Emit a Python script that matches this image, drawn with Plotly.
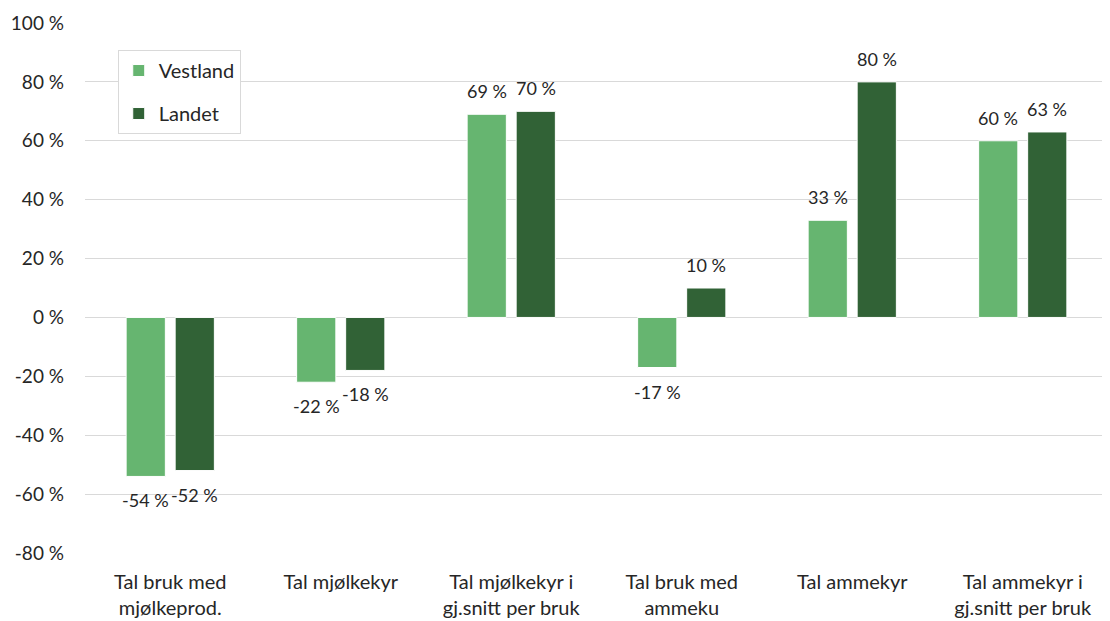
import plotly.graph_objects as go

categories = [
    "Tal bruk med<br>mjølkeprod.",
    "Tal mjølkekyr",
    "Tal mjølkekyr i<br>gj.snitt per bruk",
    "Tal bruk med<br>ammeku",
    "Tal ammekyr",
    "Tal ammekyr i<br>gj.snitt per bruk",
]
vestland = [-54, -22, 69, -17, 33, 60]
landet = [-52, -18, 70, 10, 80, 63]

tick_vals = [-80, -60, -40, -20, 0, 20, 40, 60, 80, 100]
tick_text = [f"{v} %" for v in tick_vals]

font_family = "Lato, 'Liberation Sans', sans-serif"
text_color = "#262626"

series = [
    ("Vestland", vestland, "#66b570", "a", -24.5),
    ("Landet", landet, "#316236", "b", 24.5),
]

fig = go.Figure()
for name, vals, color, grp, dx in series:
    fig.add_trace(go.Bar(
        name=name,
        x=categories,
        y=vals,
        marker=dict(color=color, line=dict(color="white", width=1)),
        legendgroup=grp,
    ))
    # value labels, outside end of each bar
    for cat, v in zip(categories, vals):
        fig.add_annotation(
            x=cat, y=v, text=f"{v} %", showarrow=False,
            xshift=dx, yanchor="bottom" if v >= 0 else "top",
            yshift=10 if v >= 0 else -11,
            font=dict(size=18, color=text_color, family=font_family),
        )

# page body has an 8px margin, so the figure is sized/offset to compensate
fig.update_layout(
    width=1102,
    height=613,
    margin=dict(l=77, r=2, t=15, b=68),
    plot_bgcolor="white",
    paper_bgcolor="white",
    barmode="group",
    bargap=0.425,
    bargroupgap=0.2,
    font=dict(family=font_family, size=18, color=text_color),
    showlegend=True,
    legend=dict(
        x=0.032, y=0.949, xanchor="left", yanchor="top",
        bordercolor="#d9d9d9", borderwidth=1, bgcolor="white",
        font=dict(size=20, color=text_color),
        traceorder="grouped", tracegroupgap=14,
    ),
    xaxis=dict(showgrid=False, showline=False, ticks="",
               ticklabelstandoff=15,
               tickfont=dict(size=20, color=text_color)),
    yaxis=dict(
        range=[-80, 100], tickvals=tick_vals, ticktext=tick_text,
        showgrid=True, gridcolor="#d9d9d9", gridwidth=1,
        zeroline=False, showline=False, ticks="",
        ticklabelstandoff=20,
        tickfont=dict(size=19, color=text_color),
    ),
)

fig.write_html("out.html")
